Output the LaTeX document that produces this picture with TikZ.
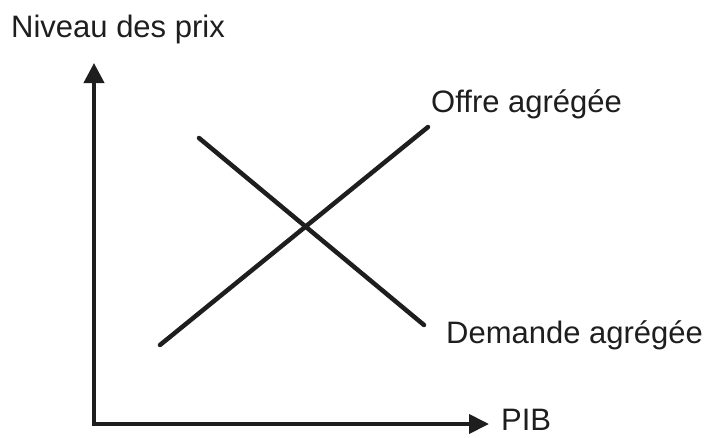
\documentclass[tikz,border=0pt]{standalone}
\usepackage{fontspec}
\setmainfont{Liberation Sans}
\usetikzlibrary{arrows.meta}
\definecolor{ink}{HTML}{1E1E1E}
\begin{document}
\begin{tikzpicture}[x=1pt,y=-1pt,
  axisline/.style={draw=ink,line width=4pt,{Triangle[width=20pt,length=20pt]}-{Triangle[width=19pt,length=20pt]}},
  curve/.style={draw=ink,line width=4.5pt,line cap=round},
  lbl/.style={text=ink,font=\fontsize{31}{36}\selectfont,inner sep=0pt,anchor=base west}]
\useasboundingbox (0,0) rectangle (710,437);
% axes
\coordinate (origin) at (94,424);
\coordinate (ytop) at (94,63);
\coordinate (xend) at (489,424);
\draw[axisline] (ytop) -- (origin) -- (xend);
% curves
\coordinate (o1) at (160,345);
\coordinate (o2) at (428,127);
\coordinate (d1) at (199,138);
\coordinate (d2) at (424,325);
\draw[curve] (o1) -- (o2);
\draw[curve] (d1) -- (d2);
% labels
\node[lbl] (ylabel) at (11,37) {Niveau des prix};
\node[lbl] (offre) at (431,112) {Offre agrégée};
\node[lbl] (demande) at (446,343) {Demande agrégée};
\node[lbl] (xlabel) at (501,430) {PIB};
\end{tikzpicture}
\end{document}
